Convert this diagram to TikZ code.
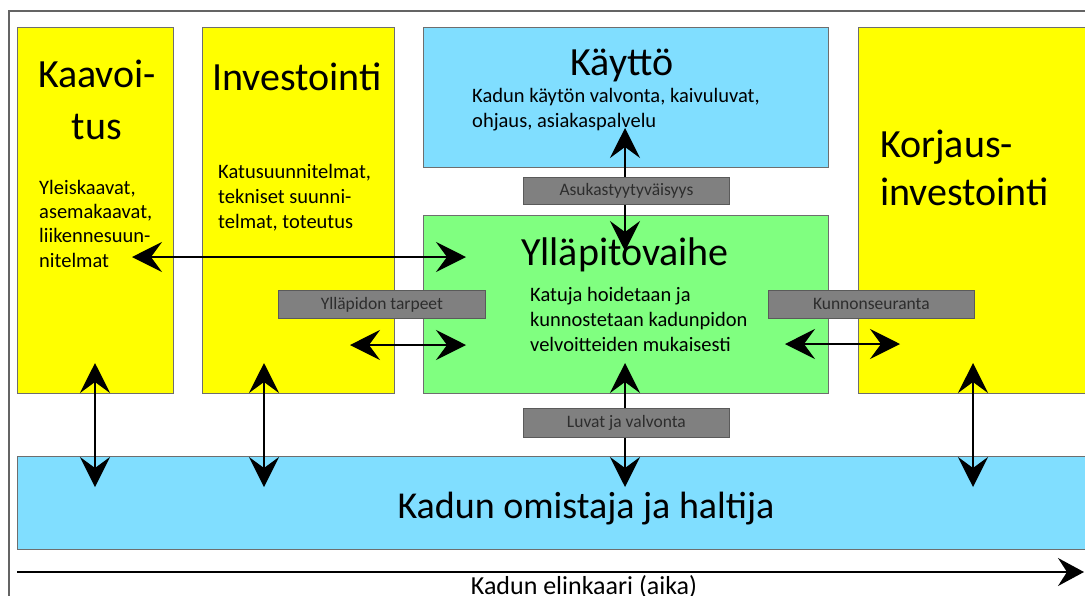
\documentclass[tikz,border=0pt]{standalone}
\usepackage{fontspec}
\setmainfont{Carlito}
\usetikzlibrary{arrows.meta}
\definecolor{yel}{RGB}{255,255,0}
\definecolor{lblue}{RGB}{128,222,255}
\definecolor{lgreen}{RGB}{128,255,128}
\definecolor{lab}{RGB}{128,128,128}
\definecolor{labedge}{RGB}{90,90,90}
\definecolor{labtext}{RGB}{45,45,45}
\definecolor{edge}{RGB}{110,110,110}
\definecolor{frame}{RGB}{100,100,100}
\begin{document}
\begin{tikzpicture}[x=1pt,y=-1pt,
 box/.style={draw=edge, line width=0.8pt, anchor=north west, inner sep=0pt},
 ybox/.style={box, fill=yel},
 bbox/.style={box, fill=lblue},
 gbox/.style={box, fill=lgreen},
 lbl/.style={box, fill=lab, draw=labedge, font=\fontsize{17.5}{20}\selectfont, text=labtext},
 ttl/.style={inner sep=0pt, anchor=base, align=center},
 sub/.style={inner sep=0pt, align=left, anchor=base west},
 dar/.style={line width=1.7pt, {Stealth[length=30pt,width=30pt,inset=11pt]}-{Stealth[length=30pt,width=30pt,inset=11pt]}}
]
\useasboundingbox (0,0) rectangle (1085,595);
\clip (0,0) rectangle (1085,595);
\fill[white] (0,0) rectangle (1085,595);
\draw[frame, line width=1.2pt] (9,11) rectangle (1110,640);

% boxes
\node[ybox, minimum width=156pt, minimum height=366pt] (kaav) at (17,27) {};
\node[ybox, minimum width=192pt, minimum height=366pt] (inv) at (202,27) {};
\node[bbox, minimum width=405pt, minimum height=140pt] (kay) at (423,27) {};
\node[gbox, minimum width=405pt, minimum height=178pt] (yll) at (423,215) {};
\node[ybox, minimum width=260pt, minimum height=366pt] (kor) at (858,27) {};
\node[bbox, minimum width=1100pt, minimum height=93pt] (own) at (17,456) {};

% texts (base anchor = baseline of the last line)
\node[ttl, font=\fontsize{40}{52}\selectfont] (kaavT) at (97,139) {Kaavoi-\\tus};
\node[sub, font=\fontsize{20.5}{24.3}\selectfont] (kaavS) at (39,267) {Yleiskaavat,\\asemakaavat,\\liikennesuun-\\nitelmat};
\node[ttl, font=\fontsize{40}{52}\selectfont] (invT) at (297,90) {Investointi};
\node[sub, font=\fontsize{20.5}{25}\selectfont] (invS) at (218,228) {Katusuunnitelmat,\\tekniset suunni-\\telmat, toteutus};
\node[ttl, font=\fontsize{40}{44}\selectfont] (kayT) at (622,75) {Käyttö};
\node[sub, font=\fontsize{20.5}{25}\selectfont] (kayS) at (472,127) {Kadun käytön valvonta, kaivuluvat,\\ohjaus, asiakaspalvelu};
\node[ttl, font=\fontsize{40}{52}\selectfont] (yllT) at (625,265) {Ylläpitovaihe};
\node[sub, font=\fontsize{20.5}{25}\selectfont] (yllS) at (530,351) {Katuja hoidetaan ja\\kunnostetaan kadunpidon\\velvoitteiden mukaisesti};
\node[sub, font=\fontsize{40}{48}\selectfont] (korT) at (880,205) {Korjaus-\\investointi};
\node[ttl, font=\fontsize{38}{40}\selectfont] (ownT) at (586,518) {Kadun omistaja ja haltija};

% arrow end points
\coordinate (h1a) at (132,257); \coordinate (h1b) at (466,257);
\coordinate (h2a) at (350,345); \coordinate (h2b) at (466,345);
\coordinate (h3a) at (785,344); \coordinate (h3b) at (900,344);
\coordinate (v0a) at (625,128); \coordinate (v0b) at (625,251);
\coordinate (v1a) at (95,363);  \coordinate (v1b) at (95,487);
\coordinate (v2a) at (264,363); \coordinate (v2b) at (264,487);
\coordinate (v3a) at (625,363); \coordinate (v3b) at (625,487);
\coordinate (v4a) at (973,363); \coordinate (v4b) at (973,487);

\draw[dar] (h1a) -- (h1b);
\draw[dar] (h2a) -- (h2b);
\draw[dar] (h3a) -- (h3b);
\draw[dar] (v0a) -- (v0b);
\draw[dar] (v1a) -- (v1b);
\draw[dar] (v2a) -- (v2b);
\draw[dar] (v3a) -- (v3b);
\draw[dar] (v4a) -- (v4b);

% labels
\node[lbl, minimum width=206pt, minimum height=27pt] (asuk) at (523,177) {Asukastyytyväisyys};
\node[lbl, minimum width=207pt, minimum height=28pt] (tarp) at (278,290) {Ylläpidon tarpeet};
\node[lbl, minimum width=206pt, minimum height=28pt] (kunn) at (768,290) {Kunnonseuranta};
\node[lbl, minimum width=206pt, minimum height=29pt] (luv) at (523,408) {Luvat ja valvonta};

% timeline
\coordinate (ts) at (17,572); \coordinate (te) at (1084,572);
\draw[line width=1.7pt, -{Stealth[length=26pt,width=28pt,inset=9pt]}] (ts) -- (te);
\node[ttl, font=\fontsize{26}{30}\selectfont] (timeT) at (584,594) {Kadun elinkaari (aika)};
\end{tikzpicture}
\end{document}
